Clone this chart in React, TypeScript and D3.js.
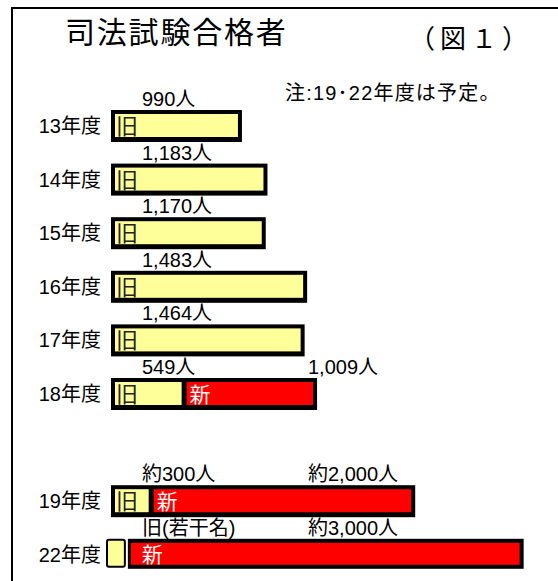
import * as d3 from "d3";
import { useEffect, useRef } from "react";

// 年度ごとの合格者数（旧試験・新試験）
const years = ["13年度", "14年度", "15年度", "16年度", "17年度", "18年度", "19年度", "22年度"];
const oldCounts = [990, 1183, 1170, 1483, 1464, 549, 300, 120]; // 22年度は「若干名」の目安
const newCounts = [0, 0, 0, 0, 0, 1009, 2000, 3000];
const oldLabels = ["990人", "1,183人", "1,170人", "1,483人", "1,464人", "549人", "約300人", "旧(若干名)"];
const newLabels = ["", "", "", "", "", "1,009人", "約2,000人", "約3,000人"];
// 18年度と19年度の間は1段あける
const slots = ["13年度", "14年度", "15年度", "16年度", "17年度", "18年度", "", "19年度", "22年度"];

const title = "司法試験合格者";
const figNo = "（図１）";
const note = "注:19･22年度は予定。";

const W = 558;
const H = 581;
const FONT = "'Liberation Sans', Arial, 'Noto Sans CJK JP', sans-serif";
const YELLOW = "#ffff99";
const RED = "#ff0000";

const App = () => {
  const ref = useRef<SVGSVGElement>(null);

  useEffect(() => {
    const svg = d3.select(ref.current);
    svg.selectAll("*").remove();

    const x = d3.scaleLinear().domain([0, 3100]).range([111, 521]);
    const y = d3.scaleBand().domain(slots).range([110, 570.8]).paddingInner(0.403);
    const h = y.bandwidth();

    // 外枠（上と左だけ見える）
    svg.append("rect")
      .attr("x", 12).attr("y", 8)
      .attr("width", 560).attr("height", 590)
      .attr("fill", "none").attr("stroke", "#000").attr("stroke-width", 2);

    svg.append("text")
      .attr("x", 65).attr("y", 43)
      .attr("font-size", 30).attr("letter-spacing", 1.8)
      .style("font-family", FONT)
      .text(title);

    svg.append("text")
      .attr("x", 409).attr("y", 48)
      .attr("font-size", 26).attr("letter-spacing", 5)
      .style("font-family", FONT)
      .text(figNo);

    svg.append("text")
      .attr("x", 285).attr("y", 100)
      .attr("font-size", 20).attr("letter-spacing", 1.2)
      .style("font-family", FONT)
      .text(note);

    const rows = years.map((yr, i) => ({
      yr,
      old: oldCounts[i],
      nw: newCounts[i],
      oldLabel: oldLabels[i],
      newLabel: newLabels[i],
    }));

    const labelX1 = x(0) + 31;
    const labelX2 = x(0) + 197;

    rows.forEach((d) => {
      const top = y(d.yr) as number;
      const x0 = x(0);
      const xs = x(d.old);
      const x1 = x(d.old + d.nw);
      const g = svg.append("g");

      // 年度ラベル
      g.append("text")
        .attr("x", 101).attr("y", top + 23)
        .attr("text-anchor", "end")
        .attr("font-size", 20)
        .style("font-family", FONT)
        .text(d.yr);

      // 人数ラベル
      g.append("text")
        .attr("x", labelX1).attr("y", top - 4)
        .attr("font-size", 20)
        .style("font-family", FONT)
        .text(d.oldLabel);
      if (d.newLabel) {
        g.append("text")
          .attr("x", labelX2).attr("y", top - 4)
          .attr("font-size", 20)
          .style("font-family", FONT)
          .text(d.newLabel);
      }

      const tiny = d.old < 200 && d.nw > 0;

      if (tiny) {
        // 旧試験（若干名）は小さな箱
        g.append("rect")
          .attr("x", x0 - 4).attr("y", top + 1)
          .attr("width", xs - x0 + 2).attr("height", h - 5)
          .attr("rx", 2)
          .attr("fill", YELLOW).attr("stroke", "#000").attr("stroke-width", 2);
        g.append("rect")
          .attr("x", xs + 1).attr("y", top)
          .attr("width", x1 - xs - 1).attr("height", h - 2)
          .attr("fill", "#000");
        g.append("rect")
          .attr("x", xs + 4).attr("y", top + 4)
          .attr("width", x1 - xs - 8).attr("height", h - 10)
          .attr("fill", RED);
        g.append("text")
          .attr("x", xs + 15).attr("y", top + 23)
          .attr("font-size", 21).attr("fill", "#fff")
          .style("font-family", FONT)
          .text("新");
        return;
      }

      g.append("rect")
        .attr("x", x0).attr("y", top)
        .attr("width", x1 - x0).attr("height", h)
        .attr("fill", "#000");

      const oldEnd = d.nw > 0 ? xs - 2 : x1 - 4;
      g.append("rect")
        .attr("x", x0 + 4).attr("y", top + 4)
        .attr("width", oldEnd - x0 - 4).attr("height", h - 9)
        .attr("fill", YELLOW);
      g.append("text")
        .attr("x", x0 + 5).attr("y", top + 24)
        .attr("font-size", 22).attr("fill", "#222")
        .style("font-family", FONT)
        .text("旧");

      if (d.nw > 0) {
        g.append("rect")
          .attr("x", xs + 3).attr("y", top + 4)
          .attr("width", x1 - 4 - xs - 3).attr("height", h - 9)
          .attr("fill", RED);
        g.append("text")
          .attr("x", xs + 6).attr("y", top + 24)
          .attr("font-size", 21).attr("fill", "#fff")
          .style("font-family", FONT)
          .text("新");
      }
    });
  }, []);

  return (
    <svg
      ref={ref}
      width={W}
      height={H}
      style={{ position: "absolute", left: 0, top: 0, display: "block", background: "#fff" }}
    />
  );
};

export default App;
